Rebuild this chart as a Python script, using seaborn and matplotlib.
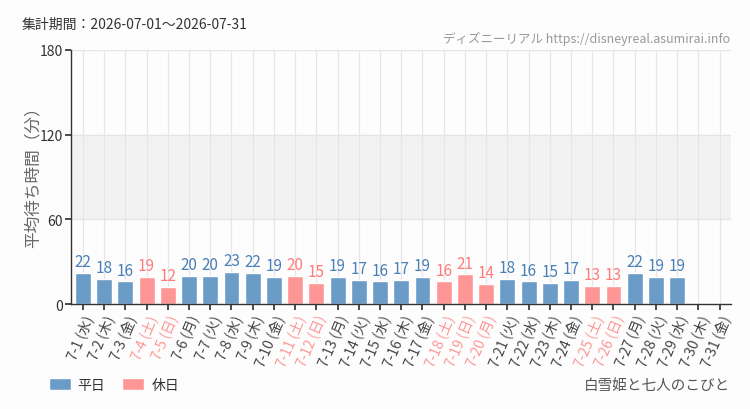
import numpy as np
import pandas as pd
import matplotlib
matplotlib.use("Agg")
import matplotlib.pyplot as plt
import seaborn as sns
from matplotlib.patches import Patch

days = ["7-1", "7-2", "7-3", "7-4", "7-5", "7-6", "7-7", "7-8", "7-9", "7-10",
        "7-11", "7-12", "7-13", "7-14", "7-15", "7-16", "7-17", "7-18", "7-19", "7-20",
        "7-21", "7-22", "7-23", "7-24", "7-25", "7-26", "7-27", "7-28", "7-29", "7-30", "7-31"]
weekdays = ["水", "木", "金", "土", "日", "月", "火", "水", "木", "金",
            "土", "日", "月", "火", "水", "木", "金", "土", "日", "月",
            "火", "水", "木", "金", "土", "日", "月", "火", "水", "木", "金"]
waits = [22, 18, 16, 19, 12, 20, 20, 23, 22, 19,
         20, 15, 19, 17, 16, 17, 19, 16, 21, 14,
         18, 16, 15, 17, 13, 13, 22, 19, 19, np.nan, np.nan]
holidays = ["7-4", "7-5", "7-11", "7-12", "7-18", "7-19", "7-20", "7-25", "7-26"]
yticks = [0, 60, 120, 180]

BLUE = "#6b9bc7"
PINK = "#ff9696"
BLUE_T = "#4a7fb8"
PINK_T = "#ff7b7b"

sns.set_theme(style="white")
plt.rcParams['font.family'] = ['Noto Sans CJK JP', 'DejaVu Sans']

labels = [f"{d} ({w})" for d, w in zip(days, weekdays)]
kind = ["休日" if d in holidays else "平日" for d in days]
df = pd.DataFrame({"label": labels, "wait": waits, "kind": kind})

fig = plt.figure(figsize=(7.5, 4.1), dpi=100, facecolor="#fcfdfc")
ax = fig.add_axes([0.095, 0.256, 0.88, 0.62])
ax.set_facecolor("#fcfdfc")

ax.axhspan(60, 120, color="#f2f2f2", zorder=0)
for i in range(len(days)):
    ax.axvline(i, color="#e6e6e6", lw=0.9, zorder=0.5)
for y in yticks[1:]:
    ax.axhline(y, color="#e4e4e4", lw=0.9, zorder=0.5)

sns.barplot(data=df, x="label", y="wait", hue="kind", order=labels,
            palette={"平日": BLUE, "休日": PINK}, dodge=False, width=0.75,
            legend=False, ax=ax, zorder=2, saturation=1)

for i, (v, k) in enumerate(zip(waits, kind)):
    if not np.isnan(v):
        ax.text(i, v + 2, f"{int(v)}", ha="center", va="bottom", fontsize=11,
                color=PINK_T if k == "休日" else BLUE_T, zorder=3)

ax.set_xlim(-0.55, 30.55)
ax.set_ylim(0, 180)
ax.set_yticks(yticks)
ax.set_yticklabels([str(t) for t in yticks], fontsize=10, color="#333333")
ax.set_xlabel("")
ax.set_ylabel("平均待ち時間（分）", fontsize=12, color="#666666")
ax.yaxis.set_label_coords(-0.045, 0.52)
ax.tick_params(axis="x", length=4, color="#333333", direction="out", bottom=True, pad=2)
ax.tick_params(axis="y", length=4, color="#333333", direction="out", left=True, pad=2)
ax.set_xticks(range(len(labels)))
ax.set_xticklabels(labels, rotation=67, ha="right", rotation_mode="anchor", fontsize=10)
for t, k in zip(ax.get_xticklabels(), kind):
    t.set_color(PINK if k == "休日" else "#444444")

for s in ["top", "right"]:
    ax.spines[s].set_visible(False)
ax.spines["left"].set_color("#333333")
ax.spines["bottom"].set_color("#333333")
ax.spines["left"].set_linewidth(1)
ax.spines["bottom"].set_linewidth(1)

fig.text(22 / 750, 1 - 25 / 410, "集計期間：2026-07-01～2026-07-31", fontsize=10,
         color="#333333", va="center", ha="left")
fig.text(730 / 750, 1 - 39 / 410, "ディズニーリアル https://disneyreal.asumirai.info", fontsize=9,
         color="#999999", va="center", ha="right")

handles = [Patch(facecolor=BLUE, label="平日"), Patch(facecolor=PINK, label="休日")]
fig.legend(handles=handles, loc="center left", bbox_to_anchor=(36 / 750, 1 - 386 / 410),
           ncol=2, frameon=False, fontsize=10, handlelength=1.6, handleheight=0.9,
           handletextpad=0.5, columnspacing=1.2, labelcolor="#333333")
fig.text(730 / 750, 1 - 386 / 410, "白雪姫と七人のこびと", fontsize=10.5,
         color="#555555", va="center", ha="right")

fig.savefig("out.png", dpi=100, facecolor=fig.get_facecolor())
